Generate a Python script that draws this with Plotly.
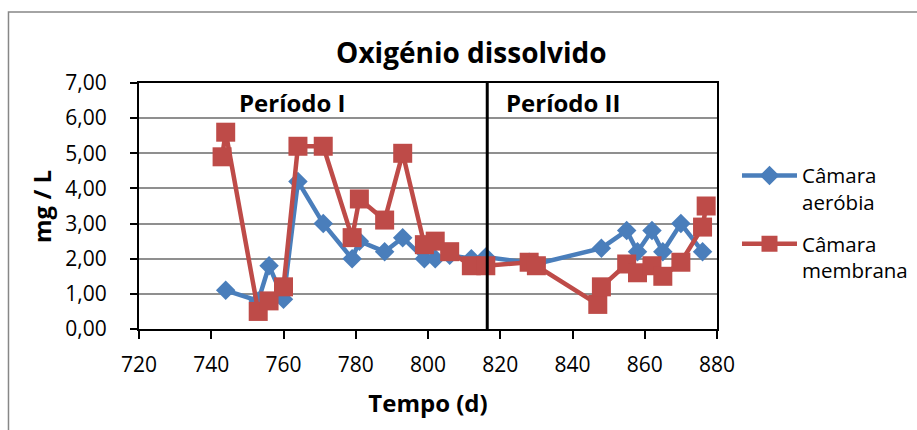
import plotly.graph_objects as go

# Data
aerobia_dias = [744, 753, 756, 760, 764, 771, 779, 781, 788, 793, 799, 802, 806, 812, 816, 828, 830, 848, 855, 858, 862, 865, 870, 876]
aerobia_od = [1.1, 0.8, 1.8, 0.85, 4.2, 3.0, 2.0, 2.5, 2.2, 2.6, 2.0, 2.0, 2.1, 2.0, 2.05, 1.9, 1.85, 2.3, 2.8, 2.2, 2.8, 2.2, 3.0, 2.2]

membrana_dias = [743, 744, 753, 756, 760, 764, 771, 779, 781, 788, 793, 799, 802, 806, 812, 816, 828, 830, 847, 848, 855, 858, 862, 865, 870, 876, 877]
membrana_od = [4.9, 5.6, 0.5, 0.8, 1.2, 5.2, 5.2, 2.6, 3.7, 3.1, 5.0, 2.4, 2.5, 2.2, 1.8, 1.8, 1.9, 1.8, 0.7, 1.2, 1.85, 1.6, 1.8, 1.5, 1.9, 2.9, 3.5]

x_ticks = [720, 740, 760, 780, 800, 820, 840, 860, 880]
y_ticks = [0, 1, 2, 3, 4, 5, 6, 7]
divisao_periodo = 816.4

FONT = "Open Sans"
fig = go.Figure()

fig.add_trace(go.Scatter(
    x=aerobia_dias, y=aerobia_od, mode="lines+markers",
    name="Câmara<br>aeróbia", legendgroup="aerobia",
    line=dict(color="#4A7EBB", width=4.5),
    marker=dict(symbol="diamond", size=15, color="#4A7EBB"),
))
fig.add_trace(go.Scatter(
    x=membrana_dias, y=membrana_od, mode="lines+markers",
    name="Câmara<br>membrana", legendgroup="membrana",
    line=dict(color="#BE4B48", width=4.5),
    marker=dict(symbol="square", size=19, color="#BE4B48"),
))

# Period separator
fig.add_shape(type="line", xref="x", yref="y", x0=divisao_periodo, x1=divisao_periodo,
              y0=0, y1=7, line=dict(color="black", width=3))

# Outer chart border (partially cropped in the original)
fig.add_shape(type="rect", xref="paper", yref="paper",
              x0=-0.2258, x1=2.0, y0=-1.0, y1=1.2886,
              line=dict(color="#878787", width=1.5), layer="below")

fig.add_annotation(text="<b>Período I</b>", xref="paper", yref="paper",
                   x=0.265, y=0.919, xanchor="center", yanchor="middle", showarrow=False,
                   font=dict(family=FONT, size=24, color="black"))
fig.add_annotation(text="<b>Período II</b>", xref="paper", yref="paper",
                   x=0.734, y=0.919, xanchor="center", yanchor="middle", showarrow=False,
                   font=dict(family=FONT, size=24, color="black"))
# y-axis title
fig.add_annotation(text="<b>mg / L</b>", xref="paper", yref="paper",
                   x=-0.1696, y=0.5, xanchor="center", yanchor="middle", textangle=-90,
                   showarrow=False, font=dict(family=FONT, size=24, color="black"))

fig.update_layout(
    width=917, height=430,
    margin=dict(l=139, r=200, t=83, b=101, autoexpand=False),
    paper_bgcolor="white", plot_bgcolor="white",
    separators=",.",
    font=dict(family=FONT, size=21, color="black"),
    title=dict(text="<b>Oxigénio dissolvido</b>", x=0.514, xanchor="center",
               y=1 - 53 / 430, yanchor="middle",
               font=dict(family=FONT, size=28, color="black")),
    legend=dict(xref="container", yref="container", x=0.8037, xanchor="left",
                y=0.638, yanchor="top",
                font=dict(family=FONT, size=20.5), valign="top", itemwidth=55,
                tracegroupgap=12, bgcolor="rgba(0,0,0,0)"),
    xaxis=dict(
        range=[720, 880], tickvals=x_ticks, ticks="outside", ticklen=8,
        tickwidth=1.5, tickcolor="black", ticklabelstandoff=8,
        showline=True, linecolor="black", linewidth=2, mirror=True,
        showgrid=False, zeroline=False,
        title=dict(text="<b>Tempo (d)</b>", font=dict(family=FONT, size=24), standoff=18),
        tickfont=dict(family=FONT, size=21),
    ),
    yaxis=dict(
        range=[0, 7], tickvals=y_ticks, tickformat=".2f", ticks="outside", ticklen=7,
        tickwidth=1.5, tickcolor="black", ticklabelstandoff=19,
        showline=True, linecolor="black", linewidth=2, mirror=True,
        showgrid=True, gridcolor="#8f8f8f", gridwidth=1.5, zeroline=False,
        tickfont=dict(family=FONT, size=21),
    ),
)

fig.write_html("out.html")
